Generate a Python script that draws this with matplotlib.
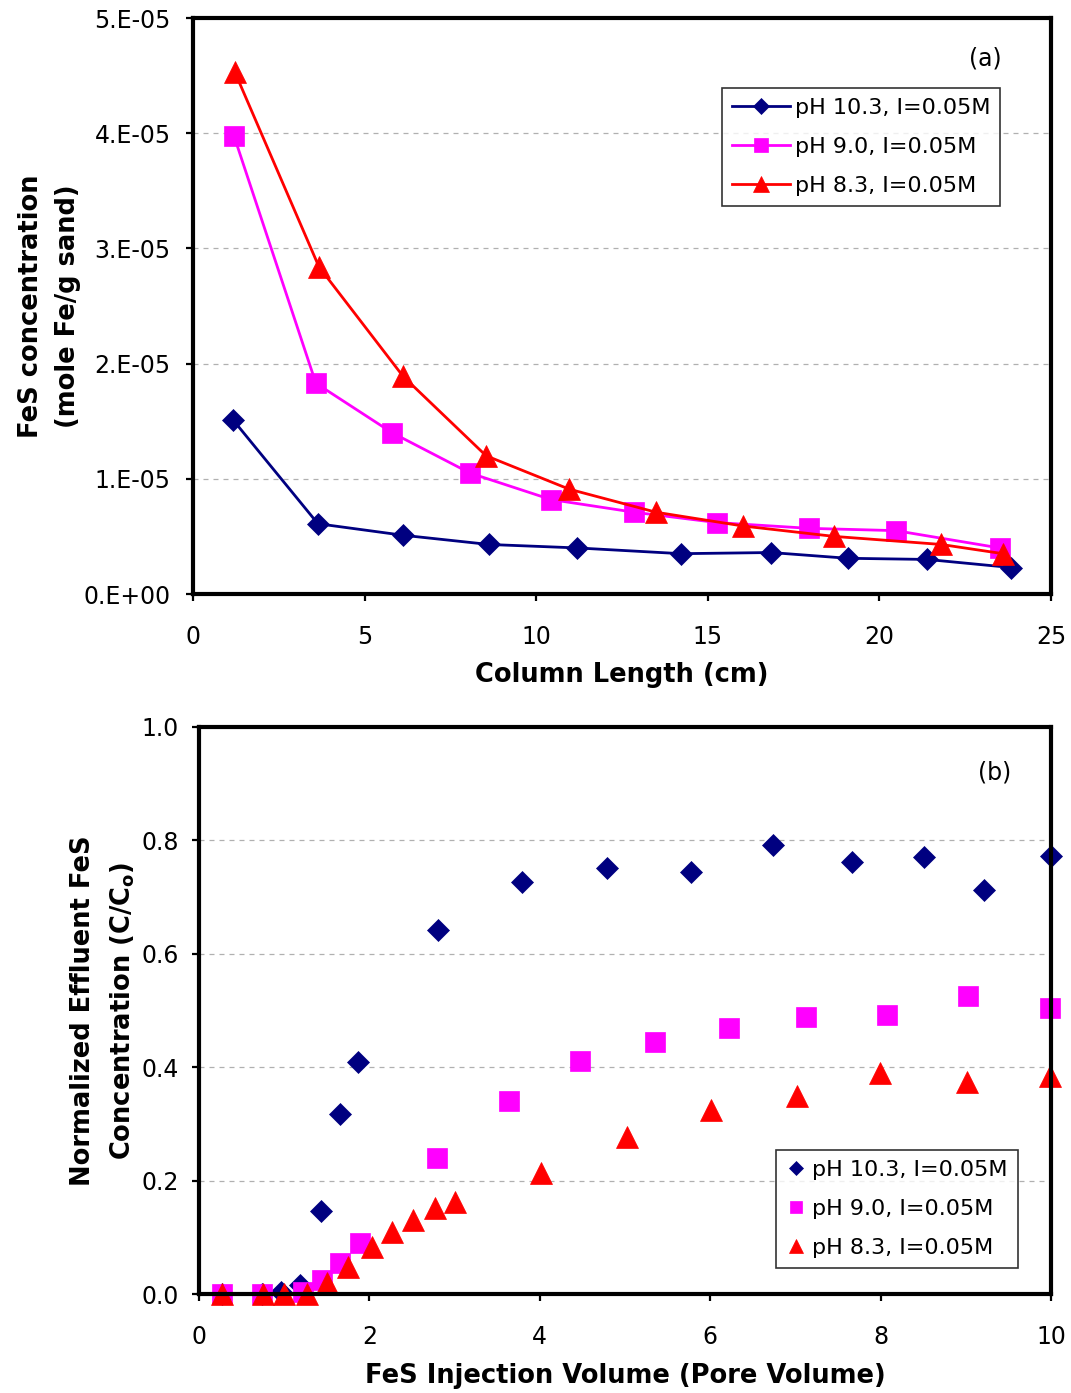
import matplotlib
matplotlib.use("Agg")
import matplotlib.pyplot as plt
from matplotlib.ticker import FuncFormatter

plt.rcParams['font.family'] = ['DejaVu Sans']

# ---- Panel (a) data: column length (cm) vs FeS concentration (mole Fe/g sand)
a_x_103 = [1.17, 3.64, 6.12, 8.62, 11.19, 14.22, 16.84, 19.08, 21.39, 23.83]
a_y_103 = [1.51e-5, 0.61e-5, 0.51e-5, 0.43e-5, 0.40e-5, 0.35e-5, 0.36e-5, 0.31e-5, 0.30e-5, 0.23e-5]
a_x_90 = [1.19, 3.58, 5.80, 8.07, 10.43, 12.85, 15.27, 17.95, 20.48, 23.5]
a_y_90 = [3.98e-5, 1.83e-5, 1.40e-5, 1.05e-5, 0.82e-5, 0.71e-5, 0.62e-5, 0.57e-5, 0.55e-5, 0.40e-5]
a_x_83 = [1.22, 3.67, 6.12, 8.54, 10.96, 13.49, 16.03, 18.68, 21.8, 23.6]
a_y_83 = [4.53e-5, 2.84e-5, 1.89e-5, 1.20e-5, 0.91e-5, 0.71e-5, 0.59e-5, 0.50e-5, 0.43e-5, 0.35e-5]

# ---- Panel (b) data: injection volume (PV) vs C/C0
b_x_103 = [0.27, 0.74, 0.96, 1.18, 1.43, 1.65, 1.87, 2.8, 3.79, 4.79, 5.77, 6.74, 7.66, 8.51, 9.21, 10.0]
b_y_103 = [0.0, 0.0, 0.003, 0.015, 0.146, 0.317, 0.41, 0.642, 0.727, 0.751, 0.744, 0.792, 0.762, 0.771, 0.713, 0.772]
b_x_90 = [0.27, 0.74, 1.22, 1.44, 1.65, 1.89, 2.79, 3.64, 4.47, 5.35, 6.22, 7.12, 8.08, 9.03, 9.99]
b_y_90 = [0.0, 0.0, 0.003, 0.025, 0.054, 0.09, 0.24, 0.340, 0.411, 0.444, 0.469, 0.489, 0.492, 0.526, 0.504]
b_x_83 = [0.27, 0.75, 1.0, 1.27, 1.5, 1.75, 2.03, 2.26, 2.51, 2.77, 3.0, 4.01, 5.02, 6.01, 7.02, 7.99, 9.01, 9.99]
b_y_83 = [0.0, 0.0, 0.0, 0.0, 0.02, 0.048, 0.083, 0.11, 0.13, 0.152, 0.163, 0.213, 0.277, 0.325, 0.349, 0.39, 0.374, 0.385]

labels = ['pH 10.3, I=0.05M', 'pH 9.0, I=0.05M', 'pH 8.3, I=0.05M']
colors = ['#000080', '#FF00FF', '#FF0000']
markers = ['D', 's', '^']

W, H = 1071, 1393
fig = plt.figure(figsize=(W / 100, H / 100), dpi=100)

def box(l, t, r, b):
    return [l / W, 1 - b / H, (r - l) / W, (b - t) / H]

axa = fig.add_axes(box(193, 18, 1051, 594))
axb = fig.add_axes(box(199, 727, 1051, 1294))

tick_fs = 17
lab_fs = 18.5

def style(ax, ypad):
    for s in ax.spines.values():
        s.set_linewidth(3)
        s.set_color('black')
    ax.tick_params(direction='out', length=5, width=1.6, labelsize=tick_fs, colors='black')
    ax.tick_params(axis='x', pad=17)
    ax.tick_params(axis='y', pad=ypad)
    ax.yaxis.grid(True, linestyle=(0, (4, 4)), color='#b0b0b0', linewidth=0.9)
    ax.set_axisbelow(True)

# Panel (a)
ms = [11, 15, 16]
for xs, ys, c, m, lab, s in zip([a_x_103, a_x_90, a_x_83], [a_y_103, a_y_90, a_y_83],
                               colors, markers, labels, ms):
    axa.plot(xs, ys, color=c, marker=m, markersize=s, linewidth=2, label=lab,
             markeredgecolor=c, markeredgewidth=0.5, clip_on=False)
axa.set_xlim(0, 25)
axa.set_ylim(0, 5e-5)
axa.set_xticks([0, 5, 10, 15, 20, 25])
axa.set_yticks([0, 1e-5, 2e-5, 3e-5, 4e-5, 5e-5])
axa.yaxis.set_major_formatter(FuncFormatter(lambda v, p: '0.E+00' if v == 0 else '%d.E-05' % round(v / 1e-5)))
style(axa, 11)
axa.set_xlabel('Column Length (cm)', fontsize=lab_fs, fontweight='bold')
axa.xaxis.set_label_coords(0.5, -0.118)
axa.set_ylabel('FeS concentration\n(mole Fe/g sand)', fontsize=lab_fs, fontweight='bold',
               linespacing=1.55)
axa.yaxis.set_label_coords(-0.131, 0.5)
axa.text(0.923, 0.930, '(a)', transform=axa.transAxes, fontsize=17, ha='center', va='center')
leg = axa.legend(loc='upper right', bbox_to_anchor=(0.9406, 0.8785), fontsize=16, frameon=True,
                 fancybox=False, edgecolor='black', handlelength=2.6, handletextpad=0.2,
                 borderpad=0.45, labelspacing=0.85, borderaxespad=0, markerscale=0.7)
leg.get_frame().set_linewidth(1.2)

# Panel (b)
ms_b = [11.5, 15, 16]
for xs, ys, c, m, lab, s in zip([b_x_103, b_x_90, b_x_83], [b_y_103, b_y_90, b_y_83],
                               colors, markers, labels, ms_b):
    axb.plot(xs, ys, color=c, marker=m, markersize=s, linestyle='none', label=lab,
             markeredgecolor=c, markeredgewidth=0.5, clip_on=False)
axb.set_xlim(0, 10)
axb.set_ylim(0, 1.0)
axb.set_xticks([0, 2, 4, 6, 8, 10])
axb.set_yticks([0, 0.2, 0.4, 0.6, 0.8, 1.0])
axb.yaxis.set_major_formatter(FuncFormatter(lambda v, p: '%.1f' % v))
style(axb, 9.5)
axb.set_xlabel('FeS Injection Volume (Pore Volume)', fontsize=lab_fs, fontweight='bold')
axb.xaxis.set_label_coords(0.5, -0.122)
axb.set_ylabel('Normalized Effluent FeS\nConcentration (C/C$_\\mathregular{o}$)', fontsize=lab_fs,
               fontweight='bold', linespacing=1.55)
axb.yaxis.set_label_coords(-0.073, 0.5)
axb.text(0.934, 0.919, '(b)', transform=axb.transAxes, fontsize=17, ha='center', va='center')
legb = axb.legend(loc='lower right', bbox_to_anchor=(0.961, 0.046), fontsize=16, frameon=True,
                  fancybox=False, edgecolor='black', handlelength=0.9, handletextpad=0.3,
                  borderpad=0.45, labelspacing=0.85, borderaxespad=0, markerscale=0.6)
legb.get_frame().set_linewidth(1.2)

fig.savefig('out.png', dpi=100)
